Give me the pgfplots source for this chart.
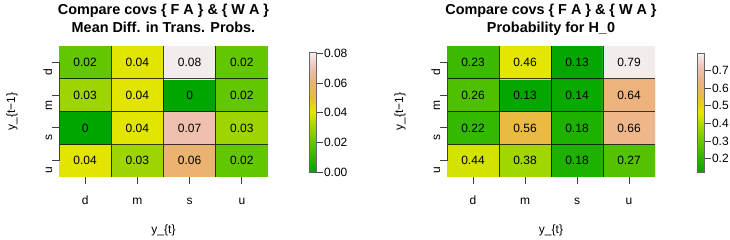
\documentclass[border=0pt]{standalone}
\usepackage{pgfplots}
\pgfplotsset{compat=1.18}
\usepackage{fontspec}
\setmainfont{Liberation Sans}
\pgfplotsset{
  colormap={terrain}{rgb255(0cm)=(0,166,0); rgb255(1cm)=(45,182,0); rgb255(2cm)=(99,198,0); rgb255(3cm)=(160,214,0); rgb255(4cm)=(230,230,0); rgb255(5cm)=(233,189,58); rgb255(6cm)=(236,177,118); rgb255(7cm)=(239,194,179); rgb255(8cm)=(242,242,242)},
  heat/.style={
    scale only axis, anchor=south west,
    height=131bp,
    xmin=-0.5, xmax=3.5, ymin=-0.5, ymax=3.5,
    enlargelimits=false,
    axis line style={draw=none},
    xtick={0,1,2,3}, xticklabels={d,m,s,u},
    ytick={0,1,2,3}, yticklabels={u,s,m,d},
    xtick pos=left, ytick pos=left,
    tick align=outside, major tick length=7bp,
    tick style={black!75, line width=0.8bp},
    xticklabel style={anchor=base, font=\fontsize{12bp}{14bp}\selectfont},
    yticklabel style={rotate=90, anchor=base, font=\fontsize{12bp}{14bp}\selectfont},
    colormap name=terrain,
    xlabel={y\_\{t\}}, ylabel={y\_\{t−1\}},
    label style={font=\fontsize{12bp}{14bp}\selectfont},
    title style={font=\fontsize{14.4bp}{17.5bp}\selectfont\bfseries, align=center, anchor=south, at={(0.5,1)}, inner sep=0pt, yshift=4.5bp},
    colorbar,
    every node near coord/.append style={anchor=center, font=\fontsize{12bp}{14bp}\selectfont, black},
  },
  cbar/.style={
    anchor=north west, width=6.5bp, scale only axis,
    tick align=outside, major tick length=7bp, ytick pos=right,
    scaled y ticks=false,
    axis line style={black!60, line width=0.6bp},
    tick style={black!75, line width=0.8bp},
    yticklabel style={xshift=-2.5bp, font=\fontsize{12bp}{14bp}\selectfont, /pgf/number format/assume math mode=true, /pgf/number format/fixed, /pgf/number format/fixed zerofill},
  },
}
\pgfplotstableread{
x y c t
0 0 0.04 0.04
1 0 0.03 0.03
2 0 0.06 0.06
3 0 0.02 0.02
0 1 0 0
1 1 0.04 0.04
2 1 0.07 0.07
3 1 0.03 0.03
0 2 0.03 0.03
1 2 0.04 0.04
2 2 0 0
3 2 0.02 0.02
0 3 0.02 0.02
1 3 0.04 0.04
2 3 0.08 0.08
3 3 0.02 0.02
}\lefttab
\pgfplotstableread{
x y c t
0 0 0.44 0.44
1 0 0.38 0.38
2 0 0.18 0.18
3 0 0.27 0.27
0 1 0.22 0.22
1 1 0.56 0.56
2 1 0.18 0.18
3 1 0.66 0.66
0 2 0.26 0.26
1 2 0.13 0.13
2 2 0.14 0.14
3 2 0.64 0.64
0 3 0.23 0.23
1 3 0.46 0.46
2 3 0.13 0.13
3 3 0.79 0.79
}\righttab
\begin{document}
\begin{tikzpicture}
\path[use as bounding box] (0,0) rectangle (730bp,240bp);
% left
\begin{axis}[heat, at={(59bp,63bp)}, width=209bp,
  title={Compare covs \{ F A \} \& \{ W A \}\\Mean Diff. in Trans. Probs.\vphantom{y\_}},
  point meta min=0, point meta max=0.081,
  xlabel style={at={(axis description cs:0.5,-0.405)}, anchor=center},
  ylabel style={at={(axis description cs:-0.225,0.5)}, anchor=center},
  xticklabel style={yshift=-20bp},
  yticklabel style={xshift=-10bp},
  colorbar style={cbar, at={(parent axis.north east)}, xshift=33bp, yshift=-6bp, height=120bp,
    ytick={0,0.02,0.04,0.06,0.08}, yticklabel style={/pgf/number format/precision=2}},
]
\addplot[matrix plot*, mesh/cols=4, point meta=explicit] table[x=x, y=y, meta=c] {\lefttab};
\addplot[only marks, mark=*, mark size=0pt, mark options={draw=none, fill=none}, nodes near coords, point meta=explicit symbolic] table[x=x, y=y, meta=t] {\lefttab};
\draw[black, opacity=0.75, line width=0.8bp] (axis cs:0.5,-0.5) -- (axis cs:0.5,3.5)
  (axis cs:1.5,-0.5) -- (axis cs:1.5,3.5) (axis cs:2.5,-0.5) -- (axis cs:2.5,3.5)
  (axis cs:-0.5,0.5) -- (axis cs:3.5,0.5) (axis cs:-0.5,1.5) -- (axis cs:3.5,1.5)
  (axis cs:-0.5,2.5) -- (axis cs:3.5,2.5);
\draw[black!75, line width=0.8bp] (axis cs:0,-0.5) -- (axis cs:3,-0.5);
\draw[black!75, line width=0.8bp] (axis cs:-0.5,0) -- (axis cs:-0.5,3);
\end{axis}
% right
\begin{axis}[heat, at={(447bp,63bp)}, width=208bp,
  title={Compare covs \{ F A \} \& \{ W A \}\\Probability for H\_0\vphantom{y\_}},
  point meta min=0.124, point meta max=0.80,
  xlabel style={at={(axis description cs:0.5,-0.405)}, anchor=center},
  ylabel style={at={(axis description cs:-0.226,0.5)}, anchor=center},
  xticklabel style={yshift=-20bp},
  yticklabel style={xshift=-10bp},
  colorbar style={cbar, at={(parent axis.north east)}, xshift=34bp, yshift=-7bp, height=119bp,
    ytick={0.2,0.3,0.4,0.5,0.6,0.7}, yticklabel style={/pgf/number format/precision=1}},
]
\addplot[matrix plot*, mesh/cols=4, point meta=explicit] table[x=x, y=y, meta=c] {\righttab};
\addplot[only marks, mark=*, mark size=0pt, mark options={draw=none, fill=none}, nodes near coords, point meta=explicit symbolic] table[x=x, y=y, meta=t] {\righttab};
\draw[black, opacity=0.75, line width=0.8bp] (axis cs:0.5,-0.5) -- (axis cs:0.5,3.5)
  (axis cs:1.5,-0.5) -- (axis cs:1.5,3.5) (axis cs:2.5,-0.5) -- (axis cs:2.5,3.5)
  (axis cs:-0.5,0.5) -- (axis cs:3.5,0.5) (axis cs:-0.5,1.5) -- (axis cs:3.5,1.5)
  (axis cs:-0.5,2.5) -- (axis cs:3.5,2.5);
\draw[black!75, line width=0.8bp] (axis cs:0,-0.5) -- (axis cs:3,-0.5);
\draw[black!75, line width=0.8bp] (axis cs:-0.5,0) -- (axis cs:-0.5,3);
\end{axis}
\end{tikzpicture}
\end{document}
